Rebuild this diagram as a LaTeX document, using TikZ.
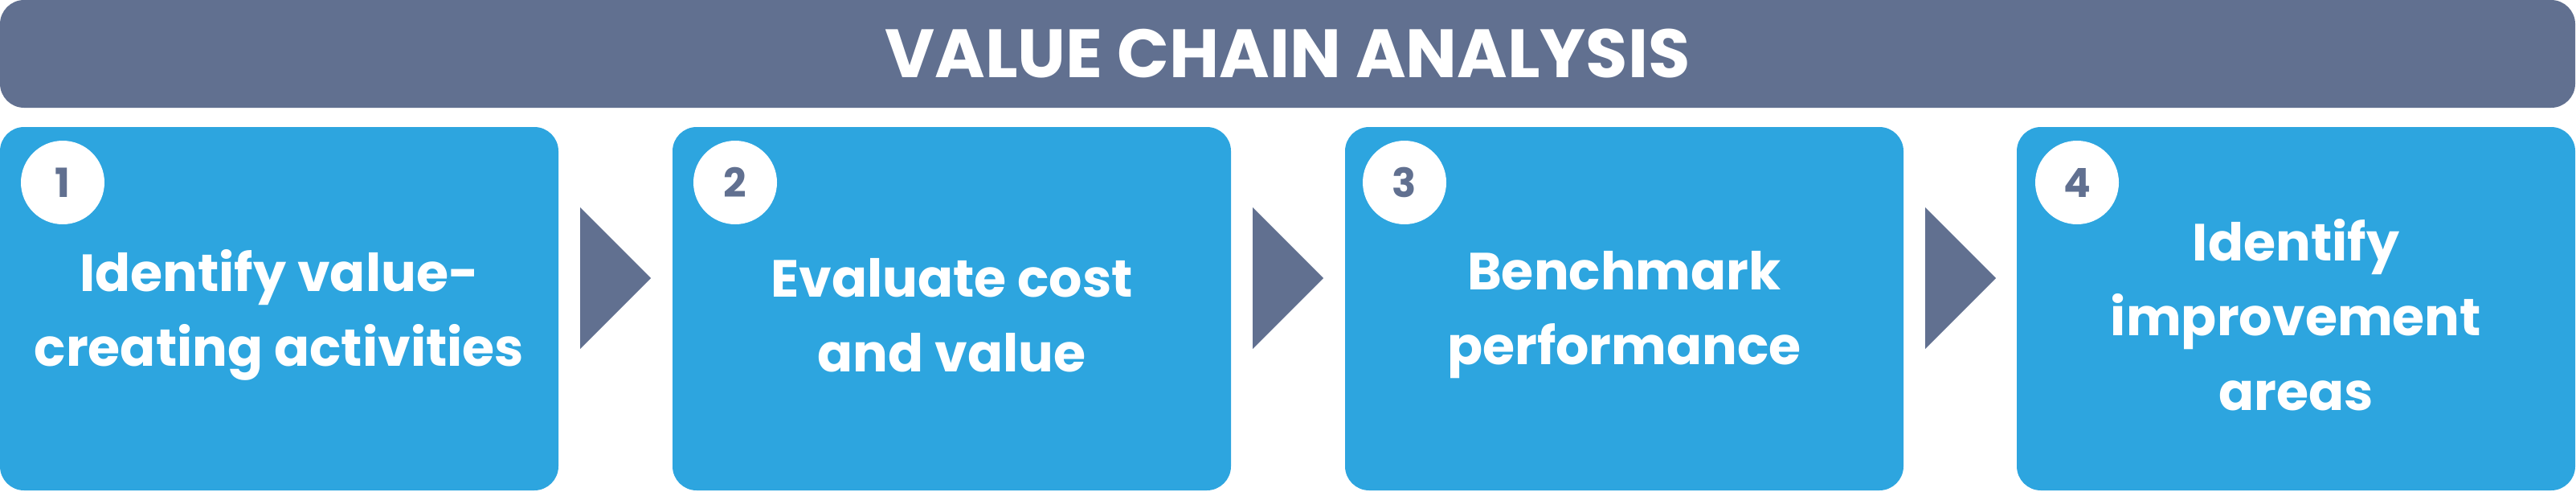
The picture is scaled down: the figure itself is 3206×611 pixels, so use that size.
\documentclass[tikz,border=0pt]{standalone}
\usepackage{fontspec}
\setmainfont{Poppins}
\definecolor{barc}{RGB}{97,112,144}
\definecolor{boxc}{RGB}{45,165,223}
\tikzset{
  titlebar/.style={fill=barc, rounded corners=30pt, minimum width=3205pt, minimum height=134pt, inner sep=0pt, text=white, font=\fontsize{85}{90}\selectfont\bfseries},
  stepbox/.style={fill=boxc, rounded corners=30pt, minimum width=695pt, minimum height=452pt, inner sep=0pt},
  steptext/.style={text=white, align=center, inner sep=0pt, font=\fontsize{65}{93}\selectfont\bfseries},
  numdot/.style={circle, fill=white, minimum size=104pt, inner sep=0pt, text=barc, font=\fontsize{50}{54}\selectfont\bfseries},
  chev/.style={fill=barc}
}
\begin{document}
\begin{tikzpicture}[x=1pt,y=-1pt]
\useasboundingbox (0,0) rectangle (3206,611);
\node[titlebar] (title) at (1602.5,67) {VALUE CHAIN ANALYSIS};
\node[stepbox] (b1) at (347.5,384) {};
\node[stepbox] (b2) at (1184.5,384) {};
\node[stepbox] (b3) at (2021.5,384) {};
\node[stepbox] (b4) at (2857.5,384) {};
\node[steptext] (t1) at (347.5,392) {Identify value-\\creating activities};
\node[steptext] (t2) at (1184.5,392) {Evaluate cost\\and value};
\node[steptext] (t3) at (2021.5,392) {Benchmark\\performance};
\node[steptext] (t4) at (2857.5,392) {Identify\\improvement\\areas};
\node[numdot] (n1) at (78,227) {1};
\node[numdot] (n2) at (915,227) {2};
\node[numdot] (n3) at (1748,227) {3};
\node[numdot] (n4) at (2585,227) {4};
\foreach \a in {b1,b2,b3}{
  \fill[chev] (\a.east) ++(27,-126) -- ++(88,88) -- ++(-88,88) -- cycle;
}
\end{tikzpicture}
\end{document}
